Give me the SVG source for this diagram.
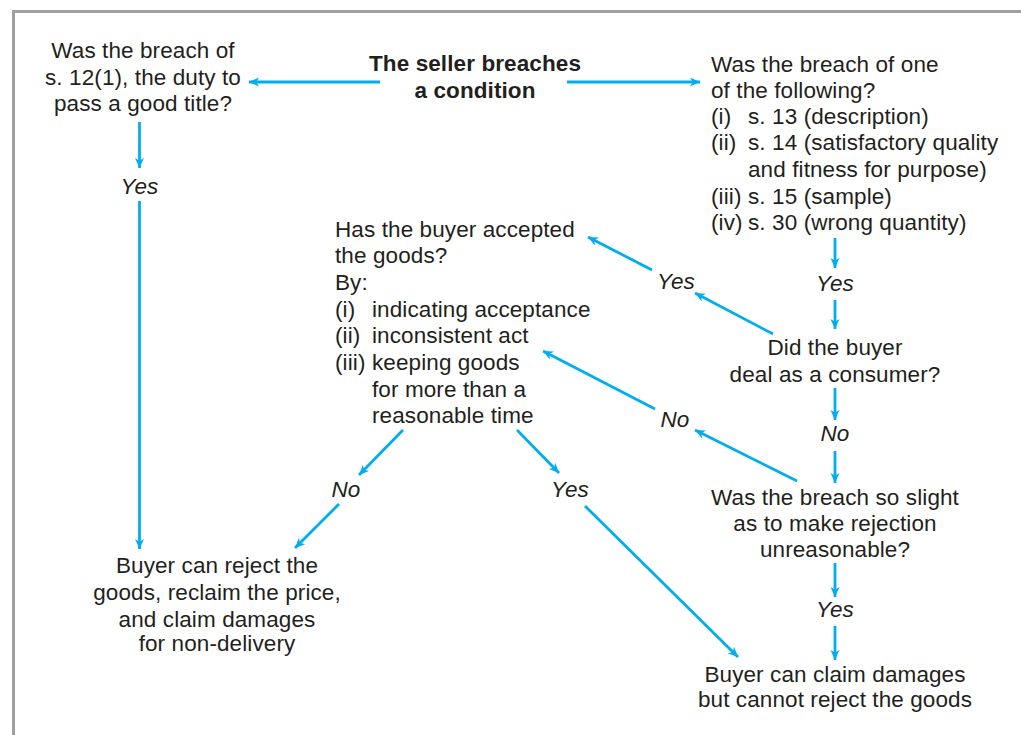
<svg xmlns="http://www.w3.org/2000/svg" width="1021" height="735" viewBox="0 0 1021 735">
<style>
text{font-family:"Liberation Sans",Arial,sans-serif;font-size:22.5px;fill:#231f20;letter-spacing:0.1px}
.c{text-anchor:middle}
.b{font-weight:bold}
.i{font-style:italic}
.conn line{stroke:#00aeef;stroke-width:2.8;fill:none;marker-end:url(#ah)}
</style>
<defs>
<marker id="ah" markerUnits="userSpaceOnUse" markerWidth="12" markerHeight="10" refX="10" refY="4.5" orient="auto" viewBox="0 0 12 10">
<path d="M0,0 L10,4.5 L0,9 L2.8,4.5 Z" fill="#00aeef"/>
</marker>
</defs>
<rect width="1021" height="735" fill="#ffffff"/>
<path d="M13.5,735 V11.5 H1021" fill="none" stroke="#a0a0a0" stroke-width="3"/>
<g id="connectors" class="conn">
<line x1="380" y1="82" x2="249" y2="82"/>
<line x1="567" y1="82" x2="700" y2="82"/>
<line x1="139.5" y1="122" x2="139.5" y2="168"/>
<line x1="139.5" y1="201" x2="139.5" y2="549"/>
<line x1="835" y1="238" x2="835" y2="268"/>
<line x1="835" y1="300" x2="835" y2="329"/>
<line x1="835" y1="388" x2="835" y2="420"/>
<line x1="835" y1="451" x2="835" y2="483"/>
<line x1="835" y1="563" x2="835" y2="597"/>
<line x1="835" y1="626" x2="835" y2="660"/>
<line x1="773" y1="334" x2="695" y2="293"/>
<line x1="652" y1="270" x2="588" y2="237"/>
<line x1="797" y1="481" x2="695" y2="430"/>
<line x1="655" y1="409" x2="543" y2="351"/>
<line x1="403" y1="430" x2="359" y2="475"/>
<line x1="339" y1="504" x2="295" y2="548"/>
<line x1="517" y1="430" x2="559" y2="473"/>
<line x1="585" y1="506" x2="738" y2="657"/>
</g>
<g id="labels">
<text class="c i" x="139.5" y="194">Yes</text>
<text class="c i" x="835" y="291">Yes</text>
<text class="c i" x="835" y="441">No</text>
<text class="c i" x="835" y="617">Yes</text>
<text class="c i" x="676" y="289">Yes</text>
<text class="c i" x="675" y="427">No</text>
<text class="c i" x="346" y="497">No</text>
<text class="c i" x="570" y="497">Yes</text>
</g>
<g id="start">
<text class="c b" x="475" y="71">The seller breaches</text>
<text class="c b" x="475" y="98">a condition</text>
</g>
<g id="title-breach">
<text class="c" x="143" y="58">Was the breach of</text>
<text class="c" x="143" y="85">s. 12(1), the duty to</text>
<text class="c" x="143" y="111">pass a good title?</text>
</g>
<g id="which-breach">
<text x="711" y="72">Was the breach of one</text>
<text x="711" y="98">of the following?</text>
<text x="711" y="124">(i)</text><text x="748" y="124">s. 13 (description)</text>
<text x="711" y="150">(ii)</text><text x="748" y="150">s. 14 (satisfactory quality</text>
<text x="748" y="177">and fitness for purpose)</text>
<text x="711" y="204">(iii)</text><text x="748" y="204">s. 15 (sample)</text>
<text x="711" y="230">(iv)</text><text x="748" y="230">s. 30 (wrong quantity)</text>
</g>
<g id="consumer">
<text class="c" x="835" y="355">Did the buyer</text>
<text class="c" x="835" y="382">deal as a consumer?</text>
</g>
<g id="slight">
<text class="c" x="835" y="505">Was the breach so slight</text>
<text class="c" x="835" y="531">as to make rejection</text>
<text class="c" x="835" y="557">unreasonable?</text>
</g>
<g id="damages-only">
<text class="c" x="835" y="682">Buyer can claim damages</text>
<text class="c" x="835" y="707">but cannot reject the goods</text>
</g>
<g id="accepted">
<text x="335" y="237">Has the buyer accepted</text>
<text x="335" y="263">the goods?</text>
<text x="335" y="290">By:</text>
<text x="335" y="317">(i)</text><text x="372" y="317">indicating acceptance</text>
<text x="335" y="343">(ii)</text><text x="372" y="343">inconsistent act</text>
<text x="335" y="370">(iii)</text><text x="372" y="370">keeping goods</text>
<text x="372" y="397">for more than a</text>
<text x="372" y="423">reasonable time</text>
</g>
<g id="reject">
<text class="c" x="217" y="573">Buyer can reject the</text>
<text class="c" x="217" y="600">goods, reclaim the price,</text>
<text class="c" x="217" y="627">and claim damages</text>
<text class="c" x="217" y="651">for non-delivery</text>
</g>
</svg>
